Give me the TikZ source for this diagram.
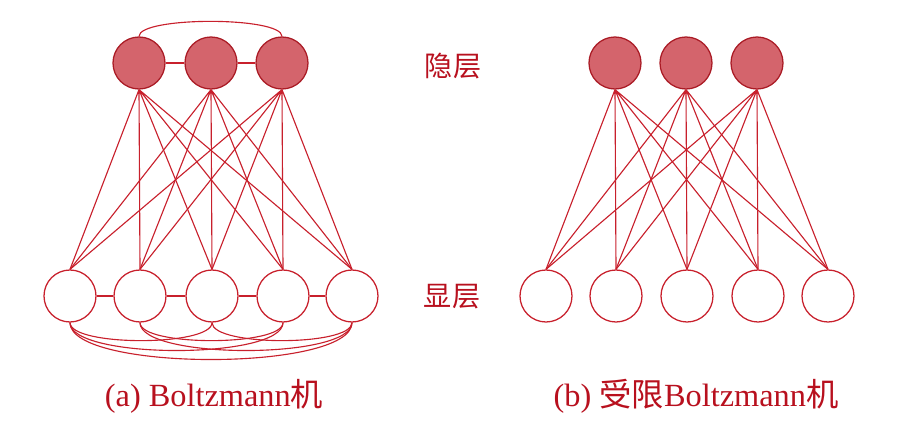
\documentclass[tikz,border=0pt]{standalone}
\usepackage{fontspec}
\setmainfont{Liberation Serif}
\newfontfamily\cjk{Noto Sans CJK SC}
\usepackage{xcolor}
\usetikzlibrary{positioning}
\definecolor{netred}{HTML}{C8202C}
\definecolor{unitfill}{HTML}{D4646C}
\definecolor{textred}{HTML}{B8101E}

\begin{document}
\begin{tikzpicture}[x=1cm, y=1cm,
    % Hidden units: filled circles.
    hidden/.style={circle, draw=netred!85!black, fill=unitfill, line width=0.9pt,
                   minimum size=1.3cm, inner sep=0pt},
    % Visible units: empty circles.
    visible/.style={circle, draw=netred, fill=white, line width=0.9pt,
                    minimum size=1.3cm, inner sep=0pt},
    % Connections between units.
    link/.style={draw=netred, line width=0.8pt},
    % Layer names and captions.
    layername/.style={font=\cjk\fontsize{20}{22}\selectfont, text=textred},
    caption/.style={font=\fontsize{23}{26}\selectfont, text=textred}
]
    \useasboundingbox (0,0) rectangle (22.6,11);

    % === (a) Boltzmann machine ===
    \node[hidden] (ha1) at (3.475, 9.425) {};
    \node[hidden] (ha2) at (5.275, 9.425) {};
    \node[hidden] (ha3) at (7.05,  9.425) {};

    \node[visible] (va1) at (1.75,  3.6) {};
    \node[visible] (va2) at (3.5,   3.6) {};
    \node[visible] (va3) at (5.3,   3.6) {};
    \node[visible] (va4) at (7.075, 3.6) {};
    \node[visible] (va5) at (8.8,   3.6) {};

    % hidden -- visible, every pair
    \draw[link] (ha1.south) -- (va1.north) (ha1.south) -- (va2.north) (ha1.south) -- (va3.north)
                (ha1.south) -- (va4.north) (ha1.south) -- (va5.north);
    \draw[link] (ha2.south) -- (va1.north) (ha2.south) -- (va2.north) (ha2.south) -- (va3.north)
                (ha2.south) -- (va4.north) (ha2.south) -- (va5.north);
    \draw[link] (ha3.south) -- (va1.north) (ha3.south) -- (va2.north) (ha3.south) -- (va3.north)
                (ha3.south) -- (va4.north) (ha3.south) -- (va5.north);

    % hidden -- hidden
    \draw[link] (ha1) -- (ha2);
    \draw[link] (ha2) -- (ha3);
    \draw[link] (ha1.north) .. controls +(0,0.5) and +(0,0.5) .. (ha3.north);

    % visible -- visible: neighbours straight, the rest curved below
    \draw[link] (va1) -- (va2);
    \draw[link] (va2) -- (va3);
    \draw[link] (va3) -- (va4);
    \draw[link] (va4) -- (va5);
    \draw[link] (va1.south) .. controls +(0,-0.6)  and +(0,-0.6)  .. (va3.south);
    \draw[link] (va2.south) .. controls +(0,-0.6)  and +(0,-0.6)  .. (va4.south);
    \draw[link] (va3.south) .. controls +(0,-0.6)  and +(0,-0.6)  .. (va5.south);
    \draw[link] (va1.south) .. controls +(0,-0.93) and +(0,-0.93) .. (va4.south);
    \draw[link] (va2.south) .. controls +(0,-0.93) and +(0,-0.93) .. (va5.south);
    \draw[link] (va1.south) .. controls +(0,-1.23) and +(0,-1.23) .. (va5.south);

    % === (b) restricted Boltzmann machine ===
    \node[hidden] (hb1) at (15.375, 9.425) {};
    \node[hidden] (hb2) at (17.15,  9.425) {};
    \node[hidden] (hb3) at (18.925, 9.425) {};

    \node[visible] (vb1) at (13.65,  3.6) {};
    \node[visible] (vb2) at (15.4,   3.6) {};
    \node[visible] (vb3) at (17.175, 3.6) {};
    \node[visible] (vb4) at (18.95,  3.6) {};
    \node[visible] (vb5) at (20.7,   3.6) {};

    % only hidden -- visible links
    \draw[link] (hb1.south) -- (vb1.north) (hb1.south) -- (vb2.north) (hb1.south) -- (vb3.north)
                (hb1.south) -- (vb4.north) (hb1.south) -- (vb5.north);
    \draw[link] (hb2.south) -- (vb1.north) (hb2.south) -- (vb2.north) (hb2.south) -- (vb3.north)
                (hb2.south) -- (vb4.north) (hb2.south) -- (vb5.north);
    \draw[link] (hb3.south) -- (vb1.north) (hb3.south) -- (vb2.north) (hb3.south) -- (vb3.north)
                (hb3.south) -- (vb4.north) (hb3.south) -- (vb5.north);

    % === Layer names ===
    \node[layername] (hidname) at (11.325, 9.35)  {隐层};
    \node[layername] (visname) at (11.3,   3.575) {显层};

    % === Captions ===
    \node[caption] (capa) at (5.35, 1.1) {(a) Boltzmann{\cjk 机}};
    \node[caption] (capb) at (17.4, 1.1) {(b) {\cjk 受限}Boltzmann{\cjk 机}};
\end{tikzpicture}
\end{document}
